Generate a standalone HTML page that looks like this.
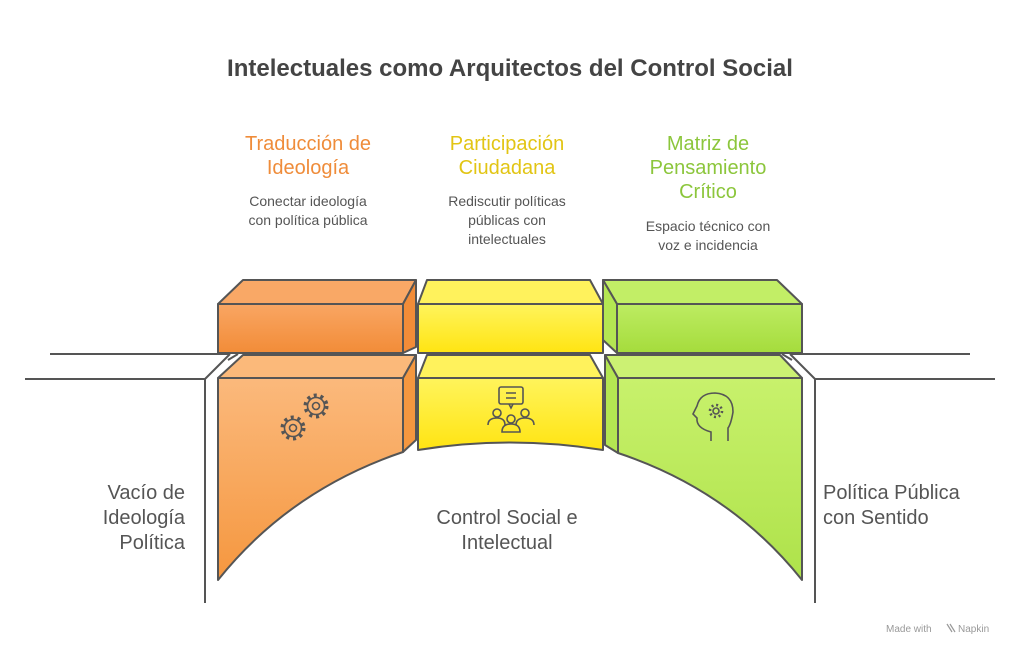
<!DOCTYPE html>
<html><head><meta charset="utf-8"><style>
html,body{margin:0;padding:0;background:#fff;}
body{width:1020px;height:653px;overflow:hidden;font-family:"Liberation Sans",sans-serif;}
</style></head><body>
<svg width="1020" height="653" viewBox="0 0 1020 653" xmlns="http://www.w3.org/2000/svg" font-family="Liberation Sans, sans-serif">
<defs>
<linearGradient id="o1" x1="0" y1="0" x2="0" y2="1"><stop offset="0" stop-color="#f9a663"/><stop offset="1" stop-color="#f28c38"/></linearGradient>
<linearGradient id="o2" x1="0" y1="0" x2="0" y2="1"><stop offset="0" stop-color="#fbb97c"/><stop offset="1" stop-color="#f5973f"/></linearGradient>
<linearGradient id="y1" x1="0" y1="0" x2="0" y2="1"><stop offset="0" stop-color="#fff45c"/><stop offset="1" stop-color="#ffe412"/></linearGradient>
<linearGradient id="g1" x1="0" y1="0" x2="0" y2="1"><stop offset="0" stop-color="#bdec62"/><stop offset="1" stop-color="#a5dc3c"/></linearGradient>
<linearGradient id="g2" x1="0" y1="0" x2="0" y2="1"><stop offset="0" stop-color="#c8f16c"/><stop offset="1" stop-color="#aee24a"/></linearGradient>
</defs>
<text x="510" y="76" text-anchor="middle" font-size="24" font-weight="bold" fill="#444">Intelectuales como Arquitectos del Control Social</text>

<g font-size="20" text-anchor="middle">
<text x="308" y="150" fill="#ef8c3a">Traducción de</text>
<text x="308" y="174" fill="#ef8c3a">Ideología</text>
<text x="507" y="150" fill="#e2c514">Participación</text>
<text x="507" y="174" fill="#e2c514">Ciudadana</text>
<text x="708" y="150" fill="#8cc63c">Matriz de</text>
<text x="708" y="174" fill="#8cc63c">Pensamiento</text>
<text x="708" y="198" fill="#8cc63c">Crítico</text>
</g>
<g font-size="14" text-anchor="middle" fill="#555">
<text x="308" y="206">Conectar ideología</text>
<text x="308" y="225">con política pública</text>
<text x="507" y="206">Rediscutir políticas</text>
<text x="507" y="225">públicas con</text>
<text x="507" y="244">intelectuales</text>
<text x="708" y="231">Espacio técnico con</text>
<text x="708" y="250">voz e incidencia</text>
</g>

<g stroke="#555" stroke-width="2" fill="none">
<path d="M50 354 H230 M790 354 H970"/>
<path d="M25 379 H205 V603 M205 379 L230 354 M228 360 L238 354"/>
<path d="M995 379 H815 V603 M815 379 L790 354 M792 360 L782 354"/>
</g>

<g stroke="#555" stroke-width="2" stroke-linejoin="round">
<path d="M218 304 L243 280 H416 L403 304 Z" fill="#f9a866"/>
<path d="M403 304 L416 280 V347 L403 353 Z" fill="#f28c38"/>
<rect x="218" y="304" width="185" height="49" fill="url(#o1)"/>
<path d="M418 304 L427 280 H590 L603 304 Z" fill="#fff25c"/>
<rect x="418" y="304" width="185" height="49" fill="url(#y1)"/>
<path d="M617 304 L603 280 H777 L802 304 Z" fill="#c2ee66"/>
<path d="M603 280 L617 304 V353 L603 340 Z" fill="#b4e652"/>
<rect x="617" y="304" width="185" height="49" fill="url(#g1)"/>

<path d="M218 378 L243 355 H416 L403 378 Z" fill="#fbb97a"/>
<path d="M403 378 L416 355 V440 L403 452 Z" fill="#f5973f"/>
<path d="M218 378 H403 V452 Q290 490 218 580 Z" fill="url(#o2)"/>
<path d="M418 378 L427 355 H590 L603 378 Z" fill="#fff25c"/>
<path d="M418 378 H603 V450 Q510 435 418 450 Z" fill="url(#y1)"/>
<path d="M618 378 L605 355 H780 L802 378 Z" fill="#ccf173"/>
<path d="M605 355 L618 378 V453 L605 445 Z" fill="#b4e652"/>
<path d="M618 378 H802 V580 Q730 490 618 453 Z" fill="url(#g2)"/>
</g>

<g fill="none" stroke="#555" stroke-width="1.6">
<circle cx="293" cy="428" r="8.5"/><circle cx="293" cy="428" r="3.5"/>
<circle cx="316" cy="406" r="8.5"/><circle cx="316" cy="406" r="3.5"/>
<g stroke-width="4" stroke-dasharray="3 3.7"><circle cx="293" cy="428" r="10.5"/><circle cx="316" cy="406" r="10.5"/></g>
<rect x="499" y="387" width="24" height="17" rx="2"/><path d="M506 393 H516 M506 398 H516 M509 404 L511 408 L513 404"/>
<circle cx="497" cy="413" r="4"/><path d="M488 425 Q488 418 497 418 Q505 418 505 425"/>
<circle cx="525" cy="413" r="4"/><path d="M516 425 Q516 418 525 418 Q534 418 534 425"/>
<circle cx="511" cy="419" r="4"/><path d="M502 432 Q502 424 511 424 Q520 424 520 432 Z"/>
<path d="M711 441 V432 Q696 428 697 418 L693 414 L697 406 Q700 393 715 393 Q733 394 733 412 Q731 424 728 428 V441"/>
<circle cx="716" cy="411" r="3"/><circle cx="716" cy="411" r="6" stroke-width="2.6" stroke-dasharray="2 2.7"/>
</g>

<g font-size="20" fill="#555">
<text x="185" y="499" text-anchor="end">Vacío de</text>
<text x="185" y="524" text-anchor="end">Ideología</text>
<text x="185" y="549" text-anchor="end">Política</text>
<text x="507" y="524" text-anchor="middle">Control Social e</text>
<text x="507" y="549" text-anchor="middle">Intelectual</text>
<text x="823" y="499">Política Pública</text>
<text x="823" y="524">con Sentido</text>
</g>
<text x="886" y="632" font-size="10" fill="#999">Made with</text>
<text x="958" y="632" font-size="10" fill="#999">Napkin</text>
<path d="M947 624 L952 632 M950 624 L955 632" stroke="#999" stroke-width="1.2"/>
</svg>
</body></html>
